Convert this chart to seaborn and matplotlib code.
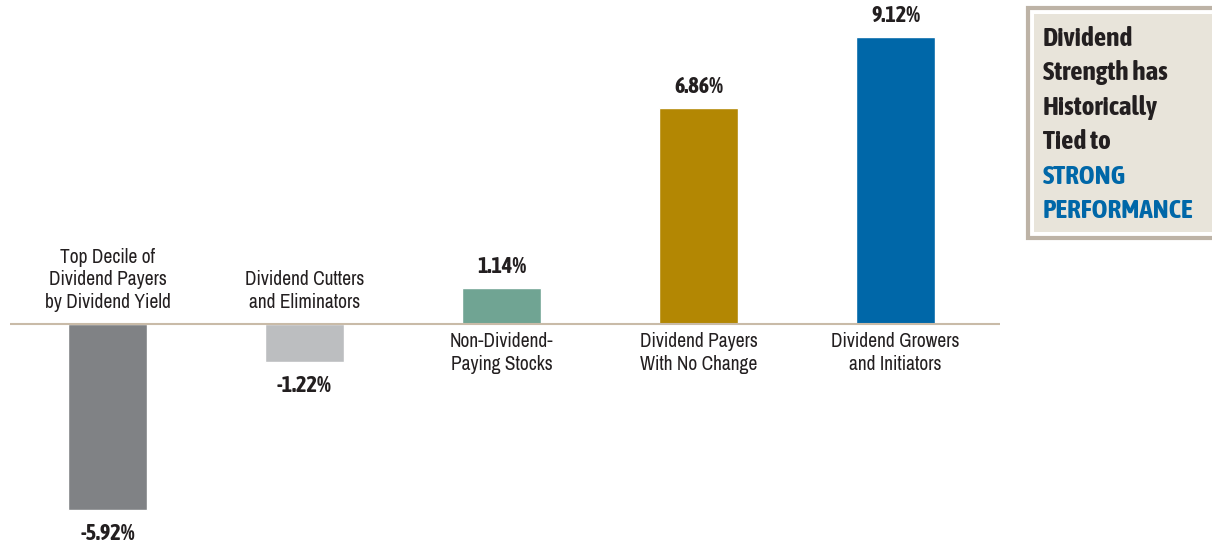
import matplotlib
matplotlib.use('Agg')
import matplotlib.pyplot as plt
import seaborn as sns
import pandas as pd
from matplotlib.patches import Rectangle
from matplotlib import font_manager

# Data
categories = [
    'Top Decile of\nDividend Payers\nby Dividend Yield',
    'Dividend Cutters\nand Eliminators',
    'Non-Dividend-\nPaying Stocks',
    'Dividend Payers\nWith No Change',
    'Dividend Growers\nand Initiators',
]
returns = [-5.92, -1.22, 1.14, 6.86, 9.12]
bar_colors = ['#808285', '#BCBEC0', '#70A493', '#B38703', '#0067A8']

sns.set_theme(style='white')


def weight_of(f):
    if isinstance(f.weight, int):
        return f.weight
    return 700 if 'bold' in str(f.weight).lower() else 400


# pick a narrow/condensed family, preferring a plain bold (700) face
narrow = [f for f in font_manager.fontManager.ttflist
          if 'Narrow' in f.name or 'Condensed' in f.name]
regular = sorted({f.name for f in narrow})
reg_family = regular[:1] + ['Roboto', 'DejaVu Sans']
bold700 = sorted({f.name for f in narrow if weight_of(f) == 700})
if regular and regular[0] in bold700:
    bold_pick = [regular[0]]
else:
    bold_pick = bold700[:1]
bold_family = bold_pick + ['Roboto', 'DejaVu Sans']
plt.rcParams['font.family'] = reg_family

df = pd.DataFrame({'category': categories, 'ret': returns})

W, H = 1212, 546
fig = plt.figure(figsize=(W / 100, H / 100), dpi=100)
ax = fig.add_axes([10 / W, 0, 990 / W, 1])

sns.barplot(data=df, x='category', y='ret', hue='category', palette=bar_colors,
            order=categories, hue_order=categories, width=0.40, saturation=1,
            legend=False, ax=ax)

ax.set_xlim(-0.495, 4.53)
ax.set_ylim(-7.05, 10.29)
ax.axhline(0, color='#C9BBA8', lw=1.5, zorder=3)
ax.axis('off')

for i, (cat, v) in enumerate(zip(categories, returns)):
    if v >= 0:
        ax.annotate(f'{v:.2f}%', (i, v), xytext=(0, 7), textcoords='offset points',
                    ha='center', va='bottom', fontsize=16, fontweight='bold',
                    family=bold_family, color='#231F20')
        ax.annotate(cat, (i, 0), xytext=(0, -6), textcoords='offset points',
                    ha='center', va='top', fontsize=14, color='#231F20', linespacing=1.22)
    else:
        ax.annotate(f'{v:.2f}%', (i, v), xytext=(0, -9), textcoords='offset points',
                    ha='center', va='top', fontsize=16, fontweight='bold',
                    family=bold_family, color='#231F20')
        ax.annotate(cat, (i, 0), xytext=(0, 9), textcoords='offset points',
                    ha='center', va='bottom', fontsize=14, color='#231F20', linespacing=1.22)

# Callout box
fig.patches.append(Rectangle((1028 / W, 1 - 238 / H), 200 / W, 230 / H,
                             transform=fig.transFigure, facecolor='white',
                             edgecolor='#BDB3A6', lw=3))
fig.patches.append(Rectangle((1034 / W, 1 - 232 / H), 200 / W, 218 / H,
                             transform=fig.transFigure, facecolor='#E8E4DA',
                             edgecolor='none'))

box_lines = ['Dividend', 'Strength has', 'Historically', 'Tied to', 'STRONG', 'PERFORMANCE']
box_colors = ['#231F20'] * 4 + ['#0067A8'] * 2
for k, (txt, c) in enumerate(zip(box_lines, box_colors)):
    fig.text(1043 / W, 1 - (38 + 34.6 * k) / H, txt, ha='left', va='center',
             fontsize=19.5, fontweight='bold', family=bold_family, color=c)

fig.savefig('out.png', dpi=100)
